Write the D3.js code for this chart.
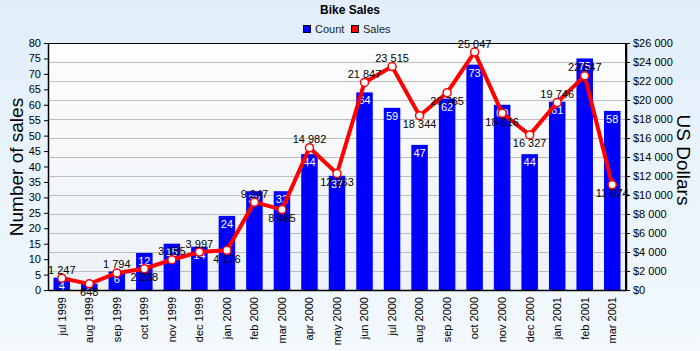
<!DOCTYPE html>
<html><head><meta charset="utf-8">
<script src="https://cdn.jsdelivr.net/npm/d3@7/dist/d3.min.js"></script>
<style>body{margin:0;padding:0;overflow:hidden}svg{display:block;font-family:"Liberation Sans",Arial,sans-serif}</style>
</head><body>
<script>
const months = ["jul 1999","aug 1999","sep 1999","oct 1999","nov 1999","dec 1999","jan 2000","feb 2000","mar 2000","apr 2000","may 2000","jun 2000","jul 2000","aug 2000","sep 2000","oct 2000","nov 2000","dec 2000","jan 2001","feb 2001","mar 2001"];
const counts = [4,2,6,12,15,14,24,32,32,44,37,64,59,47,62,73,60,44,61,75,58];
const sales = [1247,648,1794,2238,3185,3997,4176,9247,8465,14982,12263,21847,23515,18344,20765,25047,18616,16327,19746,22547,11074];
const countTicks = d3.range(0,81,5);
const salesTicks = d3.range(0,26001,2000);

const W=700,H=351;
const m={l:48,r:626,t:43,b:290};
const svg=d3.select("body").append("svg").attr("width",W).attr("height",H);
const defs=svg.append("defs");
const bg=defs.append("linearGradient").attr("id","bg").attr("x1",0).attr("y1",0).attr("x2",0).attr("y2",1);
bg.append("stop").attr("offset",0).attr("stop-color","#e1eefa");
bg.append("stop").attr("offset",1).attr("stop-color","#f3f9fd");
const pg=defs.append("linearGradient").attr("id","pg").attr("x1",0).attr("y1",0).attr("x2",0).attr("y2",1);
pg.append("stop").attr("offset",0).attr("stop-color","#fdfdfd");
pg.append("stop").attr("offset",1).attr("stop-color","#edf2f7");
svg.append("rect").attr("width",W).attr("height",H).attr("fill","url(#bg)");

const x=d3.scaleBand().domain(months).range([m.l,m.r]).paddingInner(0.4).paddingOuter(0.2);
const yL=d3.scaleLinear().domain([0,80]).range([m.b,m.t]);
const yR=d3.scaleLinear().domain([0,26000]).range([m.b,m.t]);

svg.append("rect").attr("x",m.l).attr("y",m.t).attr("width",m.r-m.l).attr("height",m.b-m.t).attr("fill","url(#pg)");
// grid
svg.append("g").selectAll("line").data(salesTicks.slice(1,-1)).join("line")
 .attr("x1",m.l).attr("x2",m.r).attr("y1",d=>Math.round(yR(d))+0.5).attr("y2",d=>Math.round(yR(d))+0.5)
 .attr("stroke","#bdbdbd");

// bars
svg.append("g").selectAll("rect").data(months).join("rect")
 .attr("x",d=>x(d)).attr("width",x.bandwidth())
 .attr("y",(d,i)=>yL(counts[i])).attr("height",(d,i)=>m.b-yL(counts[i]))
 .attr("fill","#0000ff");
svg.append("g").selectAll("text").data(months).join("text")
 .attr("x",d=>x(d)+x.bandwidth()/2).attr("y",(d,i)=>yL(counts[i])+12)
 .attr("text-anchor","middle").attr("fill","#fff").attr("font-size","11px")
 .text((d,i)=>counts[i]);

// line
const cx=d=>x(d)+x.bandwidth()/2;
const line=d3.line().x((d,i)=>cx(months[i])).y(d=>yR(d));
svg.append("path").datum(sales).attr("d",line).attr("fill","none").attr("stroke","#ff0000").attr("stroke-width",4).attr("stroke-linejoin","miter");
svg.append("g").selectAll("circle").data(sales).join("circle")
 .attr("cx",(d,i)=>cx(months[i])).attr("cy",d=>yR(d)).attr("r",4)
 .attr("fill","#fff").attr("stroke","#ff0000").attr("stroke-width",1.5);
const fmt=v=>d3.format(",")(v).replace(/,/g," ");
function below(i){
  const v=sales[i];
  if(i===0) return v<sales[1];
  if(i===sales.length-1) return v<sales[i-1];
  return v<(sales[i-1]+sales[i+1])/2;
}
svg.append("g").selectAll("text").data(sales).join("text")
 .attr("x",(d,i)=>cx(months[i])).attr("y",(d,i)=>yR(d)+(below(i)?12.5:-4.5))
 .attr("text-anchor","middle").attr("fill","#000").attr("font-size","11px")
 .text(d=>fmt(d));

// frame
svg.append("rect").attr("x",m.l+0.5).attr("y",m.t+0.5).attr("width",m.r-m.l-1).attr("height",m.b-m.t).attr("fill","none").attr("stroke","#000");

// axes
const aL=svg.append("g").attr("transform",`translate(${m.l},0)`).call(d3.axisLeft(yL).tickValues(countTicks).tickSize(4).tickSizeOuter(0));
const aR=svg.append("g").attr("transform",`translate(${m.r},0)`).call(d3.axisRight(yR).tickValues(salesTicks).tickSize(4).tickSizeOuter(0).tickFormat(d=>"$"+fmt(d)));
const aB=svg.append("g").attr("transform",`translate(0,${m.b})`).call(d3.axisBottom(x).tickSize(0).tickSizeOuter(0));
[aL,aR,aB].forEach(a=>{a.selectAll("text").attr("font-size","11px").attr("fill","#000").attr("font-family","'Liberation Sans',Arial,sans-serif");a.selectAll("line,path").attr("stroke","#000");});
aL.select(".domain").attr("stroke-width",1.5);
aR.select(".domain").attr("stroke-width",1.5);
aB.select(".domain").attr("stroke-width",1.5);
aB.selectAll("text").attr("transform","rotate(-90)").attr("text-anchor","end").attr("x",-7).attr("y",0).attr("dy","0.35em");

// axis titles
svg.append("text").attr("transform","translate(23,167) rotate(-90)").attr("text-anchor","middle").attr("font-size","19px").attr("fill","#000").text("Number of sales");
svg.append("text").attr("transform","translate(677,160) rotate(90)").attr("text-anchor","middle").attr("font-size","19px").attr("fill","#000").text("US Dollars");

// title
svg.append("text").attr("x",350).attr("y",14).attr("text-anchor","middle").attr("font-size","12px").attr("font-weight","bold").text("Bike Sales");
// legend
const leg=[["Count","#0000ff",303],["Sales","#ff0000",351]];
leg.forEach(([t,c,lx])=>{
  svg.append("rect").attr("x",lx+0.5).attr("y",25.5).attr("width",7).attr("height",7).attr("fill",c).attr("stroke","#000").attr("stroke-width",1);
  svg.append("text").attr("x",lx+12).attr("y",33).attr("font-size","11px").attr("fill","#222").text(t);
});
</script>
</body></html>
